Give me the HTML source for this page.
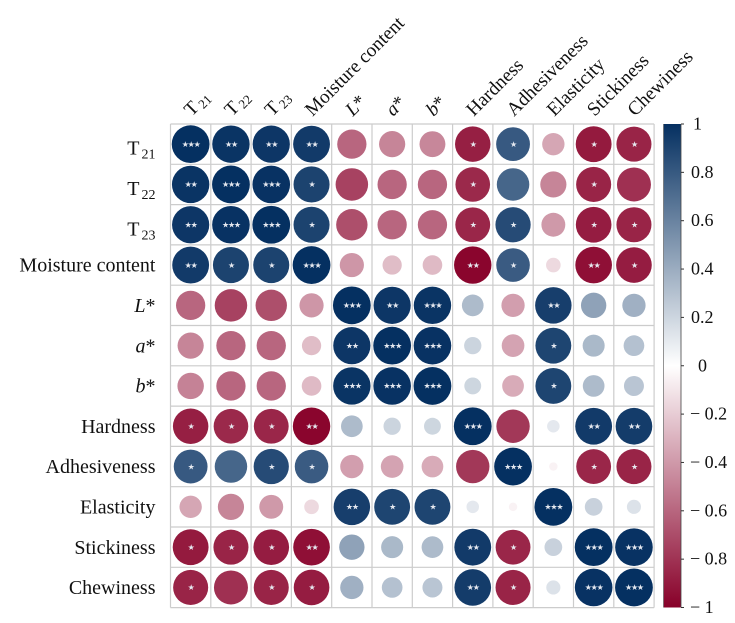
<!DOCTYPE html>
<html>
<head>
<meta charset="utf-8">
<style>
html,body{margin:0;padding:0;background:#fff;width:735px;height:623px;overflow:hidden}
svg{display:block;filter:blur(0.35px)}
text{font-family:"Liberation Serif",serif;fill:#111}
</style>
</head>
<body>
<svg id="chart" width="735" height="623" viewBox="0 0 735 623" xmlns="http://www.w3.org/2000/svg">
<defs>
<linearGradient id="cbGrad" x1="0" y1="0" x2="0" y2="1">
<stop offset="0" stop-color="#053061"/>
<stop offset="0.5" stop-color="#ffffff"/>
<stop offset="1" stop-color="#880029"/>
</linearGradient>
</defs>
<g id="grid"></g>
<g id="cells"></g>
<g id="rowLabels"></g>
<g id="colLabels"></g>
<g id="colorbar"></g>
</svg>
<script>
const categories = [
  ["T","21"],["T","22"],["T","23"],["Moisture content",""],
  ["L*","i"],["a*","i"],["b*","i"],
  ["Hardness",""],["Adhesiveness",""],["Elasticity",""],["Stickiness",""],["Chewiness",""]
];
const correlations = [
  [ 1.00, 0.98, 0.97, 0.95,-0.60,-0.48,-0.47,-0.88, 0.80,-0.35,-0.90,-0.86],
  [ 0.98, 1.00, 0.99, 0.91,-0.74,-0.60,-0.60,-0.84, 0.74,-0.48,-0.86,-0.81],
  [ 0.97, 0.99, 1.00, 0.91,-0.69,-0.60,-0.60,-0.85, 0.87,-0.40,-0.89,-0.86],
  [ 0.95, 0.91, 0.91, 1.00,-0.41,-0.26,-0.27,-0.98, 0.79,-0.15,-0.94,-0.89],
  [-0.60,-0.74,-0.69,-0.41, 1.00, 0.97, 0.98, 0.33,-0.38, 0.93, 0.45, 0.38],
  [-0.48,-0.60,-0.60,-0.26, 0.97, 1.00, 0.99, 0.21,-0.36, 0.90, 0.34, 0.30],
  [-0.49,-0.60,-0.60,-0.27, 0.98, 0.99, 1.00, 0.20,-0.33, 0.90, 0.33, 0.28],
  [-0.88,-0.84,-0.85,-0.98, 0.33, 0.21, 0.20, 1.00,-0.78, 0.11, 0.95, 0.94],
  [ 0.80, 0.74, 0.87, 0.79,-0.38,-0.36,-0.33,-0.78, 1.00,-0.05,-0.85,-0.86],
  [-0.35,-0.48,-0.40,-0.15, 0.93, 0.90, 0.90, 0.11,-0.05, 1.00, 0.22, 0.14],
  [-0.90,-0.86,-0.89,-0.94, 0.45, 0.34, 0.33, 0.95,-0.85, 0.22, 1.00, 0.99],
  [-0.86,-0.81,-0.86,-0.89, 0.38, 0.30, 0.28, 0.94,-0.86, 0.14, 0.99, 1.00]
];
const significance = [
  [3,2,2,2,0,0,0,1,1,0,1,1],
  [2,3,3,1,0,0,0,1,0,0,1,0],
  [2,3,3,1,0,0,0,1,1,0,1,1],
  [2,1,1,3,0,0,0,2,1,0,2,1],
  [0,0,0,0,3,2,3,0,0,2,0,0],
  [0,0,0,0,2,3,3,0,0,1,0,0],
  [0,0,0,0,3,3,3,0,0,1,0,0],
  [1,1,1,2,0,0,0,3,0,0,2,2],
  [1,0,1,1,0,0,0,0,3,0,1,1],
  [0,0,0,0,2,1,1,0,0,3,0,0],
  [1,1,1,2,0,0,0,2,1,0,3,3],
  [1,0,1,1,0,0,0,2,1,0,3,3]
];
const colorbarTicks = [1,0.8,0.6,0.4,0.2,0,-0.2,-0.4,-0.6,-0.8,-1];

const NS = "http://www.w3.org/2000/svg";
const GX = 170.5, GY = 124, CELL = 40.3;
const n = categories.length;
const xPos = i => GX + CELL * i;
const yPos = i => GY + CELL * i;
const radius = v => 18.9 * Math.sqrt(Math.abs(v));
const CB_X = 663.5, CB_W = 17.5, CB_TOP = 124, CB_BOT = 607.5;
const cbY = v => CB_TOP + (1 - v) / 2 * (CB_BOT - CB_TOP);

function mix(a, b, t) {
  return "rgb(" + a.map((c, i) => Math.round(c + (b[i] - c) * t)).join(",") + ")";
}
function colorOf(v) {
  const end = v >= 0 ? [5, 48, 97] : [136, 0, 41];
  return mix([255, 255, 255], end, Math.abs(v));
}
function make(tag, attrs, parent) {
  const el = document.createElementNS(NS, tag);
  for (const k in attrs) el.setAttribute(k, attrs[k]);
  parent.appendChild(el);
  return el;
}
function labelText(el, cat, subDy, subSize) {
  if (cat[1] === "i") {
    const t = make("tspan", {"font-style": "italic"}, el);
    t.textContent = cat[0][0];
    const s = make("tspan", {}, el);
    s.textContent = "*";
  } else if (cat[1]) {
    const t = make("tspan", {}, el);
    t.textContent = cat[0];
    const s = make("tspan", {"font-size": subSize, dy: subDy, dx: "2"}, el);
    s.textContent = cat[1];
  } else {
    el.textContent = cat[0];
  }
}

const grid = document.getElementById("grid");
for (let i = 0; i <= n; i++) {
  const v = make("line", {x1: xPos(i), x2: xPos(i), y1: GY, y2: yPos(n), stroke: "#cccccc", "stroke-width": 1.2}, grid);
  
  
  const h = make("line", {x1: GX, x2: xPos(n), y1: yPos(i), y2: yPos(i), stroke: "#cccccc", "stroke-width": 1.2}, grid);
  
  
}

const cells = document.getElementById("cells");
correlations.forEach((row, r) => {
  row.forEach((v, c) => {
    const cx = xPos(c) + CELL / 2, cy = yPos(r) + CELL / 2;
    const circle = make("circle", {cx: cx, cy: cy, r: radius(v), fill: colorOf(v)}, cells);
    
    
    const stars = significance[r][c];
    if (stars > 0) {
      const t = make("text", {x: cx, y: cy + 2.7, "text-anchor": "middle", "font-size": "8", "letter-spacing": "-1.2"}, cells);
      
      
      t.style.fontFamily = '"DejaVu Sans",sans-serif';
      t.style.fill = "#e6e9f0";
      t.textContent = "★".repeat(stars);
    }
  });
});

const rowLabels = document.getElementById("rowLabels");
categories.forEach((cat, i) => {
  const isT = cat[1] && cat[1] !== "i";
  const y = yPos(i) + CELL / 2 + (isT ? 10.5 : 6.6);
  const t = make("text", {x: 155.5, y: y, "text-anchor": "end", "font-size": "20"}, rowLabels);
  
  
  labelText(t, cat, "4", "14");
});

const colLabels = document.getElementById("colLabels");
categories.forEach((cat, i) => {
  const x = xPos(i) + CELL / 2 + 1, y = 117;
  const t = make("text", {x: x, y: y, "font-size": "19.3", transform: "rotate(-45 " + x + " " + y + ")"}, colLabels);
  
  
  labelText(t, cat, "3", "13");
});

const cb = document.getElementById("colorbar");
const bar = make("rect", {x: CB_X, y: CB_TOP, width: CB_W, height: CB_BOT - CB_TOP, fill: "url(#cbGrad)"}, cb);


const edgeR = make("line", {x1: CB_X + CB_W, x2: CB_X + CB_W, y1: CB_TOP, y2: CB_BOT, stroke: "#444", "stroke-width": 0.8}, cb);


const edgeL = make("line", {x1: CB_X, x2: CB_X, y1: CB_TOP, y2: CB_BOT, stroke: "#666", "stroke-width": 0.7}, cb);


colorbarTicks.forEach(v => {
  const y = cbY(v);
  const tick = make("line", {x1: CB_X + CB_W, x2: CB_X + CB_W + 3, y1: y, y2: y, stroke: "#333", "stroke-width": 1}, cb);
  
  
  const x = v === 0 ? 698 : (v === 1 ? 693 : (v < 0 ? 690 : 691));
  const lab = make("text", {x: x, y: y + 5.5, "font-size": "18"}, cb);
  
  
  lab.textContent = v < 0 ? "− " + Math.abs(v) : String(v);
});
</script>
</body>
</html>
